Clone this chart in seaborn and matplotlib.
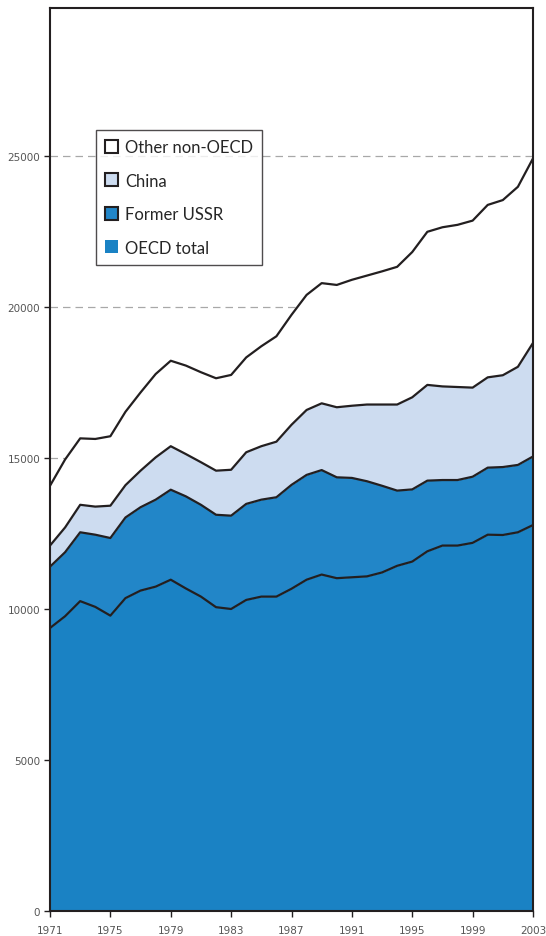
import numpy as np
import pandas as pd
import seaborn as sns
import matplotlib
matplotlib.use("Agg")
import matplotlib.pyplot as plt
from matplotlib.patches import Patch

years = list(range(1971, 2004))
oecd = [9370, 9760, 10260, 10070, 9780, 10360, 10610, 10740, 10970, 10680, 10410,
        10060, 10000, 10300, 10410, 10410, 10670, 10970, 11140, 11020, 11050, 11080,
        11210, 11430, 11570, 11910, 12100, 12100, 12190, 12460, 12450, 12540, 12780]
former_ussr = [2030, 2120, 2280, 2390, 2570, 2670, 2760, 2880, 2980, 3050, 3040,
               3060, 3090, 3180, 3210, 3290, 3440, 3470, 3460, 3340, 3290, 3150,
               2870, 2490, 2390, 2340, 2170, 2170, 2190, 2220, 2250, 2230, 2270]
china = [700, 820, 910, 930, 1070, 1070, 1210, 1400, 1440, 1400, 1410, 1460, 1520,
         1710, 1770, 1840, 1990, 2150, 2210, 2320, 2390, 2540, 2690, 2850, 3050,
         3170, 3100, 3080, 2950, 2990, 3040, 3250, 3760]
other = [1980, 2250, 2200, 2240, 2300, 2430, 2590, 2760, 2830, 2930, 2980, 3060,
         3140, 3140, 3310, 3490, 3640, 3810, 3980, 4050, 4170, 4270, 4410, 4560,
         4810, 5070, 5270, 5370, 5530, 5710, 5800, 5960, 6110]
series_names = ["OECD total", "Former USSR", "China", "Other non-OECD"]
x_ticks = [1971, 1975, 1979, 1983, 1987, 1991, 1995, 1999, 2003]
y_ticks = [0, 5000, 10000, 15000, 20000, 25000]

colors = ["#1a82c4", "#2286c8", "#cddcf0", "#ffffff"]
line_col = "#231f20"

sns.set_style("white")
plt.rcParams["font.family"] = ["DejaVu Sans"]

fig = plt.figure(figsize=(5.46, 9.37), dpi=100)
ax = fig.add_axes([50/546, 25/937, 483/546, 903/937])

vals = [oecd, former_ussr, china, other]
ax.stackplot(years, *vals, colors=colors, zorder=2, linewidth=0)

cum = np.cumsum(np.array(vals), axis=0)
df = pd.DataFrame({"year": years})
for i, name in enumerate(series_names):
    df[name] = cum[i]
long = df.melt(id_vars="year", var_name="series", value_name="value")
sns.lineplot(data=long, x="year", y="value", units="series", estimator=None,
             color=line_col, linewidth=1.6, ax=ax, zorder=3, legend=False)

ax.set_xlim(1971, 2003)
ax.set_ylim(0, 29900)
ax.set_xticks(x_ticks)
ax.set_yticks(y_ticks)
ax.set_xlabel("")
ax.set_ylabel("")
ax.yaxis.grid(True, linestyle=(0, (6, 4)), color="#a8a8a8", linewidth=0.9, zorder=1)
ax.set_axisbelow(True)

for s in ax.spines.values():
    s.set_color(line_col)
    s.set_linewidth(1.5)
    s.set_zorder(4)

ax.tick_params(axis="both", which="major", direction="out", length=4, width=1,
               color=line_col, labelsize=7.5, labelcolor="#555555", pad=3,
               bottom=True, left=True)
ax.tick_params(axis="x", pad=6)

handles = [
    Patch(facecolor=colors[3], edgecolor=line_col, linewidth=1.5),
    Patch(facecolor=colors[2], edgecolor=line_col, linewidth=1.5),
    Patch(facecolor=colors[1], edgecolor=line_col, linewidth=1.5),
    Patch(facecolor=colors[0], edgecolor="none"),
]
labels = [series_names[3], series_names[2], series_names[1], series_names[0]]
leg = ax.legend(handles, labels, loc="upper left", bbox_to_anchor=(0.095, 0.865),
                borderaxespad=0, frameon=True, fancybox=False, shadow=False,
                prop={"family": "Lato", "size": 12}, handlelength=0.8,
                handleheight=0.8, handletextpad=0.4, labelspacing=1.05,
                borderpad=0.55)
leg.get_frame().set_edgecolor(line_col)
leg.get_frame().set_linewidth(1.0)
leg.set_zorder(5)

fig.savefig("out.png", dpi=100)
